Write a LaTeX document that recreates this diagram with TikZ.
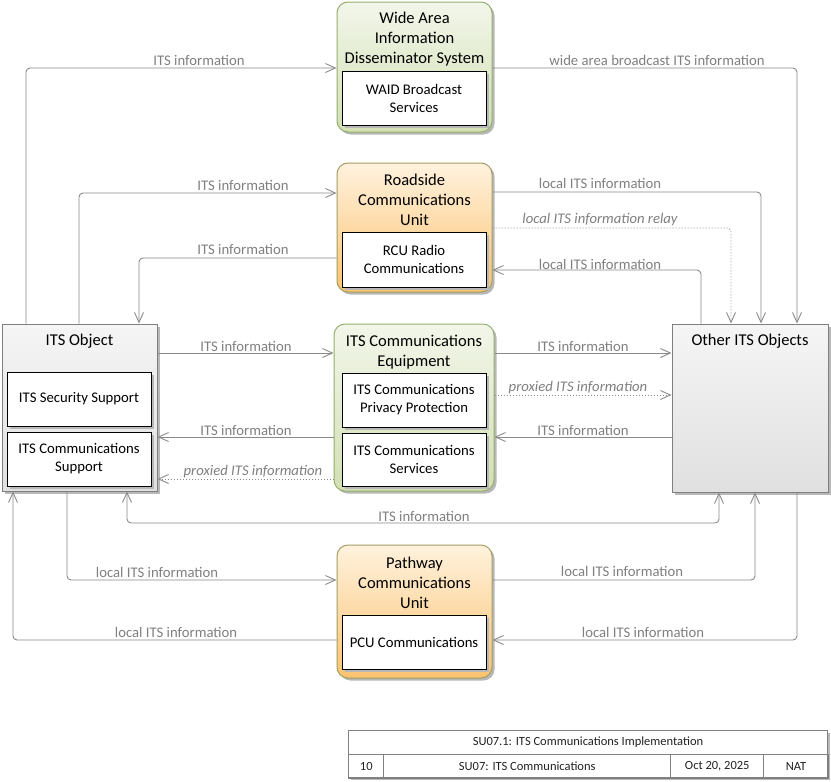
\documentclass[tikz,border=0pt]{standalone}
\usepackage{fontspec}
\setmainfont{Carlito}
\usetikzlibrary{arrows.meta,shadows,calc}
\definecolor{cgray}{HTML}{8A8A8A}
\definecolor{lgray}{HTML}{808080}
\definecolor{gtop}{HTML}{F2F6EA}
\definecolor{gbot}{HTML}{D2E0B3}
\definecolor{gbord}{HTML}{96AE6C}
\definecolor{otop}{HTML}{FFF2DE}
\definecolor{obot}{HTML}{FBC370}
\definecolor{obord}{HTML}{A39E62}
\definecolor{ytop}{HTML}{F5F5F5}
\definecolor{ybot}{HTML}{E0E0E0}
\definecolor{ybord}{HTML}{7F7F7F}
\definecolor{ftext}{HTML}{222222}
\tikzset{
  shad/.style={drop shadow={shadow xshift=2.5pt,shadow yshift=-2.5pt,fill=black!28,opacity=1}},
  grnbox/.style={draw=gbord,line width=1pt,rounded corners=11pt,top color=gtop,bottom color=gbot,shad,minimum width=155pt,inner sep=0},
  orgbox/.style={draw=obord,line width=1pt,rounded corners=11pt,top color=otop,bottom color=obot,shad,minimum width=155pt,inner sep=0},
  graybox/.style={draw=ybord,line width=1pt,top color=ytop,bottom color=ybot,shad,minimum width=155pt,inner sep=0},
  inbox/.style={draw=black,line width=1pt,fill=white,shad,minimum width=144pt,minimum height=54pt,inner sep=0,align=center,font=\fontsize{14.7}{18}\selectfont},
  ttl/.style={align=center,inner sep=0,font=\fontsize{16.5}{20}\selectfont},
  conn/.style={draw=cgray,line width=0.9pt,rounded corners=4pt,-{Straight Barb[length=10pt,width=9pt,line width=0.9pt]}},
  connd/.style={conn,dash pattern=on 1pt off 2pt},
  conn2/.style={draw=cgray,line width=0.9pt,rounded corners=4pt,{Straight Barb[length=10pt,width=9pt,line width=0.9pt]}-{Straight Barb[length=10pt,width=9pt,line width=0.9pt]}},
  lbl/.style={text=lgray,inner sep=0,font=\fontsize{14.7}{16}\selectfont},
  lbli/.style={lbl,font=\fontsize{14.7}{16}\selectfont\itshape},
  cell/.style={draw=lgray,line width=1pt,inner sep=0,text=ftext,font=\fontsize{12.5}{14}\selectfont,minimum height=23.5pt}
}
\begin{document}
\begin{tikzpicture}[x=1pt,y=-1pt]
\path[use as bounding box,fill=white] (0,0) rectangle (831,782);

% main blocks
\node[grnbox,minimum height=130pt] (waid) at (414.5,67) {};
\node[ttl] (waidt) at (414.5,39) {Wide Area\\Information\\Disseminator System};
\node[inbox] (waidin) at (414,98) {WAID Broadcast\\Services};

\node[orgbox,minimum height=129pt] (rcu) at (414.5,227.5) {};
\node[ttl] (rcut) at (414.5,200) {Roadside\\Communications\\Unit};
\node[inbox,minimum height=55pt] (rcuin) at (414,259.5) {RCU Radio\\Communications};

\node[grnbox,minimum width=160pt,minimum height=167pt] (itsce) at (414,407.5) {};
\node[ttl] (itscet) at (414,352) {ITS Communications\\Equipment};
\node[inbox] (itscein1) at (414,400) {ITS Communications\\Privacy Protection};
\node[inbox,minimum height=53pt] (itscein2) at (414,459.5) {ITS Communications\\Services};

\node[orgbox,minimum height=133pt] (pcu) at (414.5,611.5) {};
\node[ttl] (pcut) at (414.5,583) {Pathway\\Communications\\Unit};
\node[inbox] (pcuin) at (414,642) {PCU Communications};

\node[graybox,minimum height=167pt] (obj) at (79.5,407.5) {};
\node[ttl] (objt) at (79.5,341.5) {ITS Object};
\node[inbox] (objin1) at (79,399) {ITS Security Support};
\node[inbox] (objin2) at (79,459) {ITS Communications\\Support};

\node[graybox,minimum width=156pt,minimum height=168pt] (other) at (750,408) {};
\node[ttl] (othert) at (750,341.5) {Other ITS Objects};

% connectors
\draw[conn] (obj.north -| 26,0) |- (waid.west |- 0,68);
\draw[conn] (waid.east |- 0,68) -| (other.north -| 797,0);
\draw[conn] (obj.north -| 79,0) |- (rcu.west |- 0,193);
\draw[conn] (rcu.west |- 0,258) -| (obj.north -| 139,0);
\draw[conn] (rcu.east |- 0,192) -| (other.north -| 761,0);
\draw[connd] (rcu.east |- 0,228) -| (other.north -| 731,0);
\draw[conn] (other.north -| 701,0) |- (rcu.east |- 0,270);
\draw[conn] (obj.east |- 0,353) -- (itsce.west |- 0,353);
\draw[conn] (itsce.west |- 0,437) -- (obj.east |- 0,437);
\draw[connd] (itsce.west |- 0,479) -- (obj.east |- 0,479);
\draw[conn] (itsce.east |- 0,353) -- (other.west |- 0,353);
\draw[connd] (itsce.east |- 0,395) -- (other.west |- 0,395);
\draw[conn] (other.west |- 0,437) -- (itsce.east |- 0,437);
\draw[conn2] (obj.south -| 127,0) -- (127,523) -| (other.south -| 719,0);
\draw[conn] (obj.south -| 67,0) |- (pcu.west |- 0,580);
\draw[conn] (pcu.east |- 0,580) -| (other.south -| 755,0);
\draw[conn] (pcu.west |- 0,640) -| (obj.south -| 13,0);
\draw[conn] (other.south -| 797,0) |- (pcu.east |- 0,640);

% labels
\node[lbl] (l1) at (199,60) {ITS information};
\node[lbl] (l2) at (657,60) {wide area broadcast ITS information};
\node[lbl] (l3) at (243,185) {ITS information};
\node[lbl] (l4) at (243,249) {ITS information};
\node[lbl] (l5) at (600,183) {local ITS information};
\node[lbli] (l6) at (600,220) {local ITS information relay};
\node[lbl] (l7) at (600,264) {local ITS information};
\node[lbl] (l8) at (246,346) {ITS information};
\node[lbl] (l9) at (246,430) {ITS information};
\node[lbli] (l10) at (253,472) {proxied ITS information};
\node[lbl] (l11) at (583,346) {ITS information};
\node[lbli] (l12) at (578,388) {proxied ITS information};
\node[lbl] (l13) at (583,430) {ITS information};
\node[lbl] (l14) at (424,516) {ITS information};
\node[lbl] (l15) at (157,572) {local ITS information};
\node[lbl] (l16) at (622,571) {local ITS information};
\node[lbl] (l17) at (176,632) {local ITS information};
\node[lbl] (l18) at (643,632) {local ITS information};

% footer
\node[draw=lgray,line width=1pt,fill=white,shad,inner sep=0,minimum width=479.5pt,minimum height=47pt] (ftbg) at (588,754) {};
\node[cell,minimum width=479.5pt] (f0) at (588,742.25) {SU07.1: ITS Communications Implementation};
\node[cell,minimum width=35pt,anchor=north west] (f1) at (348.25,754) {10};
\node[cell,minimum width=287pt,anchor=north west] (f2) at (383.25,754) {SU07: ITS Communications};
\node[cell,minimum width=93pt,anchor=north west] (f3) at (670.25,754) {Oct 20, 2025};
\node[cell,minimum width=64.5pt,anchor=north west] (f4) at (763.25,754) {NAT};
\end{tikzpicture}
\end{document}
